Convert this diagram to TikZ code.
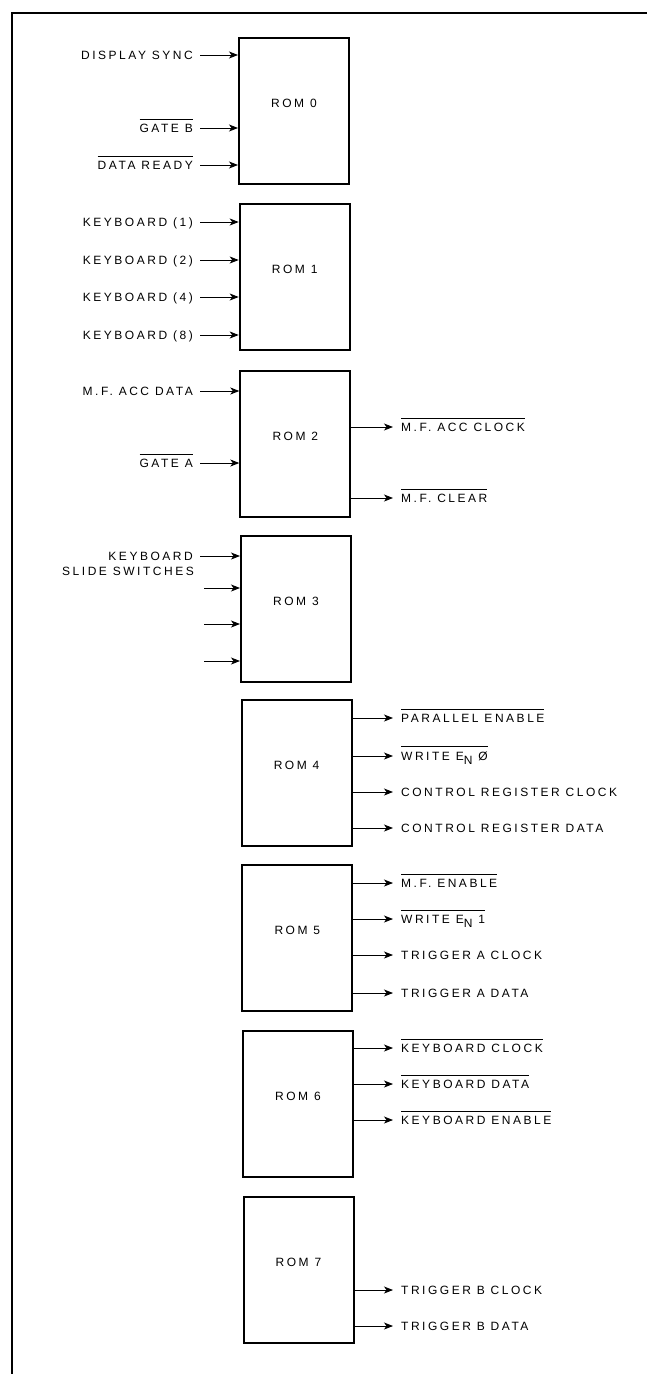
\documentclass[tikz,border=0pt]{standalone}
\usepackage{fontspec}
\setmainfont{Liberation Sans}[LetterSpace=21]
\usetikzlibrary{arrows.meta}
\newcommand\ovl[1]{\vbox{\hrule height 0.8pt\kern 4.5pt\hbox{#1}}}
\newcommand\sigin[4]{%
  \node[inlab] (#2) at (193,{#3+4.3}) {#4};
  \coordinate (#2s) at (200,#3);
  \draw[sig] (#2s) -- (#2s -| #1.west);
}
\newcommand\sigout[4]{%
  \coordinate (#2s) at (393,#3);
  \draw[sig] (#2s -| #1.east) -- (#2s);
  \node[outlab] (#2) at (401,{#3+4.3}) {#4};
}
\tikzset{
  rom/.style={draw, line width=2pt, minimum width=110pt, minimum height=146pt, inner sep=0pt, anchor=north west},
  romlab/.style={anchor=base, inner sep=0pt},
  sig/.style={line width=0.9pt, -{Stealth[length=9pt,width=7pt,inset=2.5pt]}},
  inlab/.style={anchor=base east, inner sep=0pt},
  outlab/.style={anchor=base west, inner sep=0pt},
}
\begin{document}
\begin{tikzpicture}[x=1pt, y=-1pt, font=\fontsize{12}{14}\selectfont]
\useasboundingbox (0,0) rectangle (647,1374);
\draw[line width=1.3pt] (12,1374) -- (12,13) -- (647,13);

\node[rom] (r0) at (238,37) {};
\node[rom] (r1) at (238.7,203) {};
\node[rom] (r2) at (239.3,370) {};
\node[rom] (r3) at (240,535) {};
\node[rom] (r4) at (240.6,699) {};
\node[rom] (r5) at (241.3,864) {};
\node[rom] (r6) at (242,1030) {};
\node[rom] (r7) at (242.5,1196) {};
\foreach \i in {0,...,7}{
  \node[romlab] (r\i t) at ([yshift=-70pt]r\i.north) {ROM \i};
}

% ROM 0 inputs
\sigin{r0}{ds}{55}{DISPLAY SYNC}
\sigin{r0}{gb}{128}{\ovl{GATE B}}
\sigin{r0}{dr}{165}{\ovl{DATA READY}}
% ROM 1 inputs
\sigin{r1}{kb1}{222}{KEYBOARD (1)}
\sigin{r1}{kb2}{260}{KEYBOARD (2)}
\sigin{r1}{kb4}{297}{KEYBOARD (4)}
\sigin{r1}{kb8}{335}{KEYBOARD (8)}
% ROM 2
\sigin{r2}{mfd}{391}{M.F. ACC DATA}
\sigin{r2}{ga}{463}{\ovl{GATE A}}
\sigout{r2}{mfc}{427}{\ovl{M.F. ACC CLOCK}}
\sigout{r2}{mfcl}{498}{\ovl{M.F. CLEAR}}
% ROM 3
\sigin{r3}{kbs}{556}{KEYBOARD}
\node[inlab] (kbss) at (194,575.5) {SLIDE SWITCHES};
\coordinate (k2) at (204,588);
\coordinate (k3) at (204,624);
\coordinate (k4) at (204,661);
\draw[sig] (k2) -- (k2 -| r3.west);
\draw[sig] (k3) -- (k3 -| r3.west);
\draw[sig] (k4) -- (k4 -| r3.west);
% ROM 4
\sigout{r4}{pe}{718}{\ovl{PARALLEL ENABLE}}
\sigout{r4}{we0}{756}{\ovl{WRITE E\raisebox{-4pt}{N} Ø}}
\sigout{r4}{crc}{792}{CONTROL REGISTER CLOCK}
\sigout{r4}{crd}{828}{CONTROL REGISTER DATA}
% ROM 5
\sigout{r5}{mfe}{883}{\ovl{M.F. ENABLE}}
\sigout{r5}{we1}{919}{\ovl{WRITE E\raisebox{-4pt}{N} 1}}
\sigout{r5}{tac}{955}{TRIGGER A CLOCK}
\sigout{r5}{tad}{993}{TRIGGER A DATA}
% ROM 6
\sigout{r6}{kc}{1048}{\ovl{KEYBOARD CLOCK}}
\sigout{r6}{kd}{1084}{\ovl{KEYBOARD DATA}}
\sigout{r6}{ke}{1120}{\ovl{KEYBOARD ENABLE}}
% ROM 7
\sigout{r7}{tbc}{1290}{TRIGGER B CLOCK}
\sigout{r7}{tbd}{1326}{TRIGGER B DATA}
\end{tikzpicture}
\end{document}
